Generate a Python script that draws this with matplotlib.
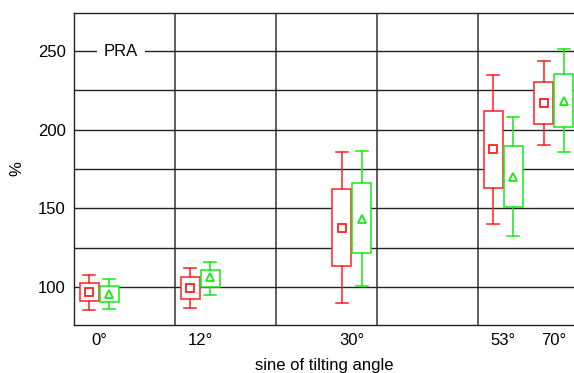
import numpy as np
import matplotlib
matplotlib.use("Agg")
import matplotlib.pyplot as plt
from matplotlib.ticker import FixedLocator

plt.rcParams['font.family'] = ['Liberation Sans', 'DejaVu Sans']

angles = ['0°', '12°', '30°', '53°', '70°']
xpos = [0.0, 0.2, 0.5, 0.8, 0.9]

# red series (square marker)
red_lo = [85.6, 86.9, 90.0, 139.8, 190.3]
red_q1 = [90.9, 92.6, 113.2, 162.9, 203.4]
red_mean = [96.6, 99.2, 137.7, 187.5, 216.9]
red_q3 = [102.3, 106.1, 162.1, 211.9, 230.5]
red_hi = [107.6, 112.1, 185.6, 235.0, 243.6]

# green series (triangle marker)
grn_lo = [86.0, 95.1, 100.6, 132.6, 185.8]
grn_q1 = [90.5, 100.0, 121.8, 150.8, 201.7]
grn_mean = [95.8, 106.2, 143.4, 170.1, 218.4]
grn_q3 = [100.4, 110.6, 165.9, 189.4, 235.4]
grn_hi = [105.1, 115.7, 186.6, 207.8, 251.5]

fig = plt.figure(figsize=(5.74, 3.73), dpi=100)
ax = fig.add_axes([74/574, 1-325/373, 500/574, 312/373])


def stats(lo, q1, mean, q3, hi):
    return [dict(whislo=a, q1=b, med=c, mean=c, q3=d, whishi=e, fliers=[])
            for a, b, c, d, e in zip(lo, q1, mean, q3, hi)]


def draw(st, pos, color, marker, ms):
    ax.bxp(st, positions=pos, widths=0.038, capwidths=0.024,
           showmeans=True, showfliers=False, patch_artist=True,
           boxprops=dict(facecolor='white', edgecolor=color, linewidth=1.1),
           whiskerprops=dict(color=color, linewidth=1.1),
           capprops=dict(color=color, linewidth=1.1),
           medianprops=dict(linewidth=0),
           meanprops=dict(marker=marker, markerfacecolor='white',
                          markeredgecolor=color, markersize=ms,
                          markeredgewidth=1.3),
           zorder=3, manage_ticks=False)


draw(stats(red_lo, red_q1, red_mean, red_q3, red_hi),
     [x - 0.02 for x in xpos], '#ff2020', 's', 6)
draw(stats(grn_lo, grn_q1, grn_mean, grn_q3, grn_hi),
     [x + 0.02 for x in xpos], '#11ee11', '^', 6)

ax.set_xlim(-0.05, 0.94)
ax.set_ylim(75.8, 274.2)

ax.set_xticks(xpos)
ax.set_xticklabels(angles, fontsize=12)
ax.xaxis.set_minor_locator(FixedLocator(np.arange(-0.05, 0.95, 0.2)))
ax.set_yticks([100, 150, 200, 250])
ax.set_yticklabels(['100', '150', '200', '250'], fontsize=12)
ax.yaxis.set_minor_locator(FixedLocator([125, 175, 225]))
ax.tick_params(which='both', length=0, pad=6)

ax.grid(False)
ax.grid(True, axis='x', which='minor', color='#444444', linewidth=1.2, zorder=1)
ax.grid(True, axis='y', which='both', color='#222222', linewidth=1.0, zorder=1)
ax.set_axisbelow(True)

for s in ['left', 'bottom', 'top']:
    ax.spines[s].set_color('#222222')
    ax.spines[s].set_linewidth(1.0)
ax.spines['right'].set_visible(False)

ax.text(0.043, 250, 'PRA', fontsize=12, ha='center', va='center', zorder=4,
        bbox=dict(facecolor='white', edgecolor='none', pad=5))

ax.set_xlabel('sine of tilting angle', fontsize=12, labelpad=7)
ax.set_ylabel('%', fontsize=12, labelpad=10)

fig.savefig('out.png', dpi=100)
